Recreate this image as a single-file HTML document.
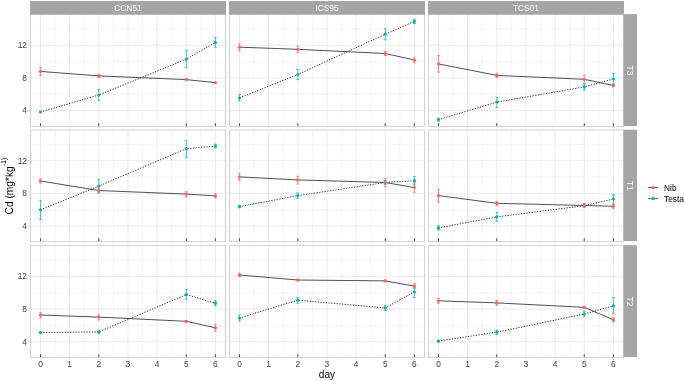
<!DOCTYPE html>
<html><head><meta charset="utf-8"><title>Cd plot</title>
<style>
html,body{margin:0;padding:0;background:#fff;}
body{width:685px;height:381px;overflow:hidden;}
svg{display:block;}
text{font-family:"Liberation Sans",Arial,Helvetica,sans-serif;}
.st{font-size:8.4px;fill:#FFFFFF;}
.rs{font-size:8.4px;}
.ax{font-size:8.4px;fill:#3C3C3C;}
.ti{font-size:10.2px;fill:#000000;}
.lg{font-size:8.4px;fill:#000000;}
</style></head>
<body>
<svg width="685" height="381" viewBox="0 0 685 381">
<rect width="685" height="381" fill="#FFFFFF"/>
<path d="M30.5 94.18H225.5M30.5 61.54H225.5M30.5 28.9H225.5M55.08 14.5V126.5M84.22 14.5V126.5M113.38 14.5V126.5M142.52 14.5V126.5M171.67 14.5V126.5M200.82 14.5V126.5" stroke="#EEEEEE" stroke-width="0.6" fill="none"/>
<path d="M30.5 110.5H225.5M30.5 77.86H225.5M30.5 45.22H225.5M40.5 14.5V126.5M69.65 14.5V126.5M98.8 14.5V126.5M127.95 14.5V126.5M157.1 14.5V126.5M186.25 14.5V126.5M215.4 14.5V126.5" stroke="#E4E4E4" stroke-width="0.75" fill="none"/>
<path d="M229.5 94.18H424.5M229.5 61.54H424.5M229.5 28.9H424.5M254.07 14.5V126.5M283.23 14.5V126.5M312.38 14.5V126.5M341.52 14.5V126.5M370.67 14.5V126.5M399.82 14.5V126.5" stroke="#EEEEEE" stroke-width="0.6" fill="none"/>
<path d="M229.5 110.5H424.5M229.5 77.86H424.5M229.5 45.22H424.5M239.5 14.5V126.5M268.65 14.5V126.5M297.8 14.5V126.5M326.95 14.5V126.5M356.1 14.5V126.5M385.25 14.5V126.5M414.4 14.5V126.5" stroke="#E4E4E4" stroke-width="0.75" fill="none"/>
<path d="M428.5 94.18H623.5M428.5 61.54H623.5M428.5 28.9H623.5M453.07 14.5V126.5M482.23 14.5V126.5M511.38 14.5V126.5M540.52 14.5V126.5M569.67 14.5V126.5M598.83 14.5V126.5" stroke="#EEEEEE" stroke-width="0.6" fill="none"/>
<path d="M428.5 110.5H623.5M428.5 77.86H623.5M428.5 45.22H623.5M438.5 14.5V126.5M467.65 14.5V126.5M496.8 14.5V126.5M525.95 14.5V126.5M555.1 14.5V126.5M584.25 14.5V126.5M613.4 14.5V126.5" stroke="#E4E4E4" stroke-width="0.75" fill="none"/>
<path d="M30.5 209.68H225.5M30.5 177.04H225.5M30.5 144.4H225.5M55.08 130V241.5M84.22 130V241.5M113.38 130V241.5M142.52 130V241.5M171.67 130V241.5M200.82 130V241.5" stroke="#EEEEEE" stroke-width="0.6" fill="none"/>
<path d="M30.5 226H225.5M30.5 193.36H225.5M30.5 160.72H225.5M40.5 130V241.5M69.65 130V241.5M98.8 130V241.5M127.95 130V241.5M157.1 130V241.5M186.25 130V241.5M215.4 130V241.5" stroke="#E4E4E4" stroke-width="0.75" fill="none"/>
<path d="M229.5 209.68H424.5M229.5 177.04H424.5M229.5 144.4H424.5M254.07 130V241.5M283.23 130V241.5M312.38 130V241.5M341.52 130V241.5M370.67 130V241.5M399.82 130V241.5" stroke="#EEEEEE" stroke-width="0.6" fill="none"/>
<path d="M229.5 226H424.5M229.5 193.36H424.5M229.5 160.72H424.5M239.5 130V241.5M268.65 130V241.5M297.8 130V241.5M326.95 130V241.5M356.1 130V241.5M385.25 130V241.5M414.4 130V241.5" stroke="#E4E4E4" stroke-width="0.75" fill="none"/>
<path d="M428.5 209.68H623.5M428.5 177.04H623.5M428.5 144.4H623.5M453.07 130V241.5M482.23 130V241.5M511.38 130V241.5M540.52 130V241.5M569.67 130V241.5M598.83 130V241.5" stroke="#EEEEEE" stroke-width="0.6" fill="none"/>
<path d="M428.5 226H623.5M428.5 193.36H623.5M428.5 160.72H623.5M438.5 130V241.5M467.65 130V241.5M496.8 130V241.5M525.95 130V241.5M555.1 130V241.5M584.25 130V241.5M613.4 130V241.5" stroke="#E4E4E4" stroke-width="0.75" fill="none"/>
<path d="M30.5 325.38H225.5M30.5 292.74H225.5M30.5 260.1H225.5M55.08 245.5V357.5M84.22 245.5V357.5M113.38 245.5V357.5M142.52 245.5V357.5M171.67 245.5V357.5M200.82 245.5V357.5" stroke="#EEEEEE" stroke-width="0.6" fill="none"/>
<path d="M30.5 341.7H225.5M30.5 309.06H225.5M30.5 276.42H225.5M40.5 245.5V357.5M69.65 245.5V357.5M98.8 245.5V357.5M127.95 245.5V357.5M157.1 245.5V357.5M186.25 245.5V357.5M215.4 245.5V357.5" stroke="#E4E4E4" stroke-width="0.75" fill="none"/>
<path d="M229.5 325.38H424.5M229.5 292.74H424.5M229.5 260.1H424.5M254.07 245.5V357.5M283.23 245.5V357.5M312.38 245.5V357.5M341.52 245.5V357.5M370.67 245.5V357.5M399.82 245.5V357.5" stroke="#EEEEEE" stroke-width="0.6" fill="none"/>
<path d="M229.5 341.7H424.5M229.5 309.06H424.5M229.5 276.42H424.5M239.5 245.5V357.5M268.65 245.5V357.5M297.8 245.5V357.5M326.95 245.5V357.5M356.1 245.5V357.5M385.25 245.5V357.5M414.4 245.5V357.5" stroke="#E4E4E4" stroke-width="0.75" fill="none"/>
<path d="M428.5 325.38H623.5M428.5 292.74H623.5M428.5 260.1H623.5M453.07 245.5V357.5M482.23 245.5V357.5M511.38 245.5V357.5M540.52 245.5V357.5M569.67 245.5V357.5M598.83 245.5V357.5" stroke="#EEEEEE" stroke-width="0.6" fill="none"/>
<path d="M428.5 341.7H623.5M428.5 309.06H623.5M428.5 276.42H623.5M438.5 245.5V357.5M467.65 245.5V357.5M496.8 245.5V357.5M525.95 245.5V357.5M555.1 245.5V357.5M584.25 245.5V357.5M613.4 245.5V357.5" stroke="#E4E4E4" stroke-width="0.75" fill="none"/>
<path d="M39.04 67.4H41.96M40.5 67.4V75.3M39.04 75.3H41.96M97.34 74.4H100.26M98.8 74.4V77.4M97.34 77.4H100.26M184.79 78.8H187.71M186.25 78.8V80.4M184.79 80.4H187.71M213.94 82.6H216.86M215.4 82.6V82.6M213.94 82.6H216.86" stroke="#F6635A" stroke-width="0.7" fill="none"/>
<path d="M39.04 111.6H41.96M40.5 111.6V112.4M39.04 112.4H41.96M97.34 89.4H100.26M98.8 89.4V100.6M97.34 100.6H100.26M184.79 50.4H187.71M186.25 50.4V67.7M184.79 67.7H187.71M213.94 37.6H216.86M215.4 37.6V47.3M213.94 47.3H216.86" stroke="#00B3B8" stroke-width="0.7" fill="none"/>
<polyline points="40.5,71.4 98.8,75.9 186.25,79.6 215.4,82.6" stroke="#303030" stroke-width="0.85" fill="none"/>
<polyline points="40.5,112 98.8,95 186.25,59.2 215.4,42.4" stroke="#303030" stroke-width="1.0" fill="none" stroke-dasharray="1.25 1.45"/>
<circle cx="40.5" cy="112" r="1.6" fill="#00B3B8"/>
<circle cx="98.8" cy="95" r="1.6" fill="#00B3B8"/>
<circle cx="186.25" cy="59.2" r="1.6" fill="#00B3B8"/>
<circle cx="215.4" cy="42.4" r="1.6" fill="#00B3B8"/>
<circle cx="40.5" cy="71.4" r="1.6" fill="#F6635A"/>
<circle cx="98.8" cy="75.9" r="1.6" fill="#F6635A"/>
<circle cx="186.25" cy="79.6" r="1.6" fill="#F6635A"/>
<circle cx="215.4" cy="82.6" r="1.6" fill="#F6635A"/>
<path d="M238.04 43.7H240.96M239.5 43.7V50.8M238.04 50.8H240.96M296.34 46H299.26M297.8 46V52.6M296.34 52.6H299.26M383.79 51.4H386.71M385.25 51.4V55.5M383.79 55.5H386.71M412.94 57.3H415.86M414.4 57.3V62.7M412.94 62.7H415.86" stroke="#F6635A" stroke-width="0.7" fill="none"/>
<path d="M238.04 94.4H240.96M239.5 94.4V101M238.04 101H240.96M296.34 69.5H299.26M297.8 69.5V79.6M296.34 79.6H299.26M383.79 28.8H386.71M385.25 28.8V39.8M383.79 39.8H386.71M412.94 19.3H415.86M414.4 19.3V23.5M412.94 23.5H415.86" stroke="#00B3B8" stroke-width="0.7" fill="none"/>
<polyline points="239.5,47.2 297.8,49.3 385.25,53.5 414.4,60" stroke="#303030" stroke-width="0.85" fill="none"/>
<polyline points="239.5,98 297.8,74.5 385.25,34.2 414.4,21.4" stroke="#303030" stroke-width="1.0" fill="none" stroke-dasharray="1.25 1.45"/>
<circle cx="239.5" cy="98" r="1.6" fill="#00B3B8"/>
<circle cx="297.8" cy="74.5" r="1.6" fill="#00B3B8"/>
<circle cx="385.25" cy="34.2" r="1.6" fill="#00B3B8"/>
<circle cx="414.4" cy="21.4" r="1.6" fill="#00B3B8"/>
<circle cx="239.5" cy="47.2" r="1.6" fill="#F6635A"/>
<circle cx="297.8" cy="49.3" r="1.6" fill="#F6635A"/>
<circle cx="385.25" cy="53.5" r="1.6" fill="#F6635A"/>
<circle cx="414.4" cy="60" r="1.6" fill="#F6635A"/>
<path d="M437.04 55.5H439.96M438.5 55.5V72.2M437.04 72.2H439.96M495.34 73.3H498.26M496.8 73.3V77.5M495.34 77.5H498.26M582.79 75.1H585.71M584.25 75.1V83.7M582.79 83.7H585.71M611.94 84H614.86M613.4 84V87M611.94 87H614.86" stroke="#F6635A" stroke-width="0.7" fill="none"/>
<path d="M437.04 118.2H439.96M438.5 118.2V121.1M437.04 121.1H439.96M495.34 97.4H498.26M496.8 97.4V107.5M495.34 107.5H498.26M582.79 83.9H585.71M584.25 83.9V90.3M582.79 90.3H585.71M611.94 73.3H614.86M613.4 73.3V84.3M611.94 84.3H614.86" stroke="#00B3B8" stroke-width="0.7" fill="none"/>
<polyline points="438.5,63.9 496.8,75.4 584.25,79.3 613.4,85.5" stroke="#303030" stroke-width="0.85" fill="none"/>
<polyline points="438.5,119.6 496.8,102.1 584.25,86.9 613.4,79" stroke="#303030" stroke-width="1.0" fill="none" stroke-dasharray="1.25 1.45"/>
<circle cx="438.5" cy="119.6" r="1.6" fill="#00B3B8"/>
<circle cx="496.8" cy="102.1" r="1.6" fill="#00B3B8"/>
<circle cx="584.25" cy="86.9" r="1.6" fill="#00B3B8"/>
<circle cx="613.4" cy="79" r="1.6" fill="#00B3B8"/>
<circle cx="438.5" cy="63.9" r="1.6" fill="#F6635A"/>
<circle cx="496.8" cy="75.4" r="1.6" fill="#F6635A"/>
<circle cx="584.25" cy="79.3" r="1.6" fill="#F6635A"/>
<circle cx="613.4" cy="85.5" r="1.6" fill="#F6635A"/>
<path d="M39.04 178.9H41.96M40.5 178.9V183M39.04 183H41.96M97.34 188.2H100.26M98.8 188.2V193.2M97.34 193.2H100.26M184.79 191.7H187.71M186.25 191.7V196.8M184.79 196.8H187.71M213.94 193.5H216.86M215.4 193.5V198M213.94 198H216.86" stroke="#F6635A" stroke-width="0.7" fill="none"/>
<path d="M39.04 200.4H41.96M40.5 200.4V219.4M39.04 219.4H41.96M97.34 179.6H100.26M98.8 179.6V192.6M97.34 192.6H100.26M184.79 140.4H187.71M186.25 140.4V157.6M184.79 157.6H187.71M213.94 144.2H216.86M215.4 144.2V147.8M213.94 147.8H216.86" stroke="#00B3B8" stroke-width="0.7" fill="none"/>
<polyline points="40.5,181 98.8,190.5 186.25,194.1 215.4,195.9" stroke="#303030" stroke-width="0.85" fill="none"/>
<polyline points="40.5,209.8 98.8,186.1 186.25,148.7 215.4,146" stroke="#303030" stroke-width="1.0" fill="none" stroke-dasharray="1.25 1.45"/>
<circle cx="40.5" cy="209.8" r="1.6" fill="#00B3B8"/>
<circle cx="98.8" cy="186.1" r="1.6" fill="#00B3B8"/>
<circle cx="186.25" cy="148.7" r="1.6" fill="#00B3B8"/>
<circle cx="215.4" cy="146" r="1.6" fill="#00B3B8"/>
<circle cx="40.5" cy="181" r="1.6" fill="#F6635A"/>
<circle cx="98.8" cy="190.5" r="1.6" fill="#F6635A"/>
<circle cx="186.25" cy="194.1" r="1.6" fill="#F6635A"/>
<circle cx="215.4" cy="195.9" r="1.6" fill="#F6635A"/>
<path d="M238.04 173.3H240.96M239.5 173.3V180.4M238.04 180.4H240.96M296.34 176.3H299.26M297.8 176.3V184M296.34 184H299.26M383.79 178.4H386.71M385.25 178.4V186.4M383.79 186.4H386.71M412.94 182.8H415.86M414.4 182.8V192.3M412.94 192.3H415.86" stroke="#F6635A" stroke-width="0.7" fill="none"/>
<path d="M238.04 205.4H240.96M239.5 205.4V207.7M238.04 207.7H240.96M296.34 192.9H299.26M297.8 192.9V198.2M296.34 198.2H299.26M383.79 180.4H386.71M385.25 180.4V184.6M383.79 184.6H386.71M412.94 176.6H415.86M414.4 176.6V184.9M412.94 184.9H415.86" stroke="#00B3B8" stroke-width="0.7" fill="none"/>
<polyline points="239.5,176.9 297.8,179.9 385.25,182.5 414.4,187.6" stroke="#303030" stroke-width="0.85" fill="none"/>
<polyline points="239.5,206.6 297.8,195.6 385.25,182.5 414.4,180.7" stroke="#303030" stroke-width="1.0" fill="none" stroke-dasharray="1.25 1.45"/>
<circle cx="239.5" cy="206.6" r="1.6" fill="#00B3B8"/>
<circle cx="297.8" cy="195.6" r="1.6" fill="#00B3B8"/>
<circle cx="385.25" cy="182.5" r="1.6" fill="#00B3B8"/>
<circle cx="414.4" cy="180.7" r="1.6" fill="#00B3B8"/>
<circle cx="239.5" cy="176.9" r="1.6" fill="#F6635A"/>
<circle cx="297.8" cy="179.9" r="1.6" fill="#F6635A"/>
<circle cx="385.25" cy="182.5" r="1.6" fill="#F6635A"/>
<circle cx="414.4" cy="187.6" r="1.6" fill="#F6635A"/>
<path d="M437.04 189.3H439.96M438.5 189.3V202.1M437.04 202.1H439.96M495.34 201.2H498.26M496.8 201.2V205.7M495.34 205.7H498.26M582.79 203.5H585.71M584.25 203.5V207.6M582.79 207.6H585.71M611.94 204.2H614.86M613.4 204.2V208.3M611.94 208.3H614.86" stroke="#F6635A" stroke-width="0.7" fill="none"/>
<path d="M437.04 225.8H439.96M438.5 225.8V230M437.04 230H439.96M495.34 212.5H498.26M496.8 212.5V221.4M495.34 221.4H498.26M582.79 204.2H585.71M584.25 204.2V207.2M582.79 207.2H585.71M611.94 194.4H614.86M613.4 194.4V203.9M611.94 203.9H614.86" stroke="#00B3B8" stroke-width="0.7" fill="none"/>
<polyline points="438.5,195.6 496.8,203.3 584.25,205.5 613.4,206.3" stroke="#303030" stroke-width="0.85" fill="none"/>
<polyline points="438.5,227.9 496.8,216.9 584.25,205.7 613.4,199.1" stroke="#303030" stroke-width="1.0" fill="none" stroke-dasharray="1.25 1.45"/>
<circle cx="438.5" cy="227.9" r="1.6" fill="#00B3B8"/>
<circle cx="496.8" cy="216.9" r="1.6" fill="#00B3B8"/>
<circle cx="584.25" cy="205.7" r="1.6" fill="#00B3B8"/>
<circle cx="613.4" cy="199.1" r="1.6" fill="#00B3B8"/>
<circle cx="438.5" cy="195.6" r="1.6" fill="#F6635A"/>
<circle cx="496.8" cy="203.3" r="1.6" fill="#F6635A"/>
<circle cx="584.25" cy="205.5" r="1.6" fill="#F6635A"/>
<circle cx="613.4" cy="206.3" r="1.6" fill="#F6635A"/>
<path d="M39.04 312.4H41.96M40.5 312.4V317.7M39.04 317.7H41.96M97.34 314.7H100.26M98.8 314.7V319.8M97.34 319.8H100.26M184.79 320.6H187.71M186.25 320.6V322M184.79 322H187.71M213.94 324.2H216.86M215.4 324.2V331.3M213.94 331.3H216.86" stroke="#F6635A" stroke-width="0.7" fill="none"/>
<path d="M39.04 331.8H41.96M40.5 331.8V333.2M39.04 333.2H41.96M97.34 330.2H100.26M98.8 330.2V333.7M97.34 333.7H100.26M184.79 289.5H187.71M186.25 289.5V299.3M184.79 299.3H187.71M213.94 300.6H216.86M215.4 300.6V305.9M213.94 305.9H216.86" stroke="#00B3B8" stroke-width="0.7" fill="none"/>
<polyline points="40.5,315 98.8,317.1 186.25,321.3 215.4,327.8" stroke="#303030" stroke-width="0.85" fill="none"/>
<polyline points="40.5,332.5 98.8,331.9 186.25,294.6 215.4,303.2" stroke="#303030" stroke-width="1.0" fill="none" stroke-dasharray="1.25 1.45"/>
<circle cx="40.5" cy="332.5" r="1.6" fill="#00B3B8"/>
<circle cx="98.8" cy="331.9" r="1.6" fill="#00B3B8"/>
<circle cx="186.25" cy="294.6" r="1.6" fill="#00B3B8"/>
<circle cx="215.4" cy="303.2" r="1.6" fill="#00B3B8"/>
<circle cx="40.5" cy="315" r="1.6" fill="#F6635A"/>
<circle cx="98.8" cy="317.1" r="1.6" fill="#F6635A"/>
<circle cx="186.25" cy="321.3" r="1.6" fill="#F6635A"/>
<circle cx="215.4" cy="327.8" r="1.6" fill="#F6635A"/>
<path d="M238.04 273.2H240.96M239.5 273.2V276.5M238.04 276.5H240.96M296.34 279.3H299.26M297.8 279.3V280.7M296.34 280.7H299.26M383.79 280.2H386.71M385.25 280.2V281.6M383.79 281.6H386.71M412.94 283.5H415.86M414.4 283.5V288.5M412.94 288.5H415.86" stroke="#F6635A" stroke-width="0.7" fill="none"/>
<path d="M238.04 315H240.96M239.5 315V321M238.04 321H240.96M296.34 297.5H299.26M297.8 297.5V303.2M296.34 303.2H299.26M383.79 305.2H386.71M385.25 305.2V310.6M383.79 310.6H386.71M412.94 287.1H415.86M414.4 287.1V297.5M412.94 297.5H415.86" stroke="#00B3B8" stroke-width="0.7" fill="none"/>
<polyline points="239.5,275 297.8,280 385.25,280.9 414.4,286.2" stroke="#303030" stroke-width="0.85" fill="none"/>
<polyline points="239.5,318 297.8,300.2 385.25,307.9 414.4,291.9" stroke="#303030" stroke-width="1.0" fill="none" stroke-dasharray="1.25 1.45"/>
<circle cx="239.5" cy="318" r="1.6" fill="#00B3B8"/>
<circle cx="297.8" cy="300.2" r="1.6" fill="#00B3B8"/>
<circle cx="385.25" cy="307.9" r="1.6" fill="#00B3B8"/>
<circle cx="414.4" cy="291.9" r="1.6" fill="#00B3B8"/>
<circle cx="239.5" cy="275" r="1.6" fill="#F6635A"/>
<circle cx="297.8" cy="280" r="1.6" fill="#F6635A"/>
<circle cx="385.25" cy="280.9" r="1.6" fill="#F6635A"/>
<circle cx="414.4" cy="286.2" r="1.6" fill="#F6635A"/>
<path d="M437.04 298.4H439.96M438.5 298.4V303.2M437.04 303.2H439.96M495.34 300.5H498.26M496.8 300.5V305.2M495.34 305.2H498.26M582.79 306.6H585.71M584.25 306.6V308M582.79 308H585.71M611.94 317.6H614.86M613.4 317.6V321.9M611.94 321.9H614.86" stroke="#F6635A" stroke-width="0.7" fill="none"/>
<path d="M437.04 340.4H439.96M438.5 340.4V341.8M437.04 341.8H439.96M495.34 330.2H498.26M496.8 330.2V334.6M495.34 334.6H498.26M582.79 311.2H585.71M584.25 311.2V316.6M582.79 316.6H585.71M611.94 297.5H614.86M613.4 297.5V313.8M611.94 313.8H614.86" stroke="#00B3B8" stroke-width="0.7" fill="none"/>
<polyline points="438.5,300.8 496.8,302.9 584.25,307.3 613.4,319.8" stroke="#303030" stroke-width="0.85" fill="none"/>
<polyline points="438.5,341.1 496.8,332.2 584.25,314 613.4,305.8" stroke="#303030" stroke-width="1.0" fill="none" stroke-dasharray="1.25 1.45"/>
<circle cx="438.5" cy="341.1" r="1.6" fill="#00B3B8"/>
<circle cx="496.8" cy="332.2" r="1.6" fill="#00B3B8"/>
<circle cx="584.25" cy="314" r="1.6" fill="#00B3B8"/>
<circle cx="613.4" cy="305.8" r="1.6" fill="#00B3B8"/>
<circle cx="438.5" cy="300.8" r="1.6" fill="#F6635A"/>
<circle cx="496.8" cy="302.9" r="1.6" fill="#F6635A"/>
<circle cx="584.25" cy="307.3" r="1.6" fill="#F6635A"/>
<circle cx="613.4" cy="319.8" r="1.6" fill="#F6635A"/>
<path d="M40.5 123.3V126.5M98.8 123.3V126.5M186.25 123.3V126.5M215.4 123.3V126.5" stroke="#303030" stroke-width="0.9" fill="none"/>
<path d="M239.5 123.3V126.5M297.8 123.3V126.5M385.25 123.3V126.5M414.4 123.3V126.5" stroke="#303030" stroke-width="0.9" fill="none"/>
<path d="M438.5 123.3V126.5M496.8 123.3V126.5M584.25 123.3V126.5M613.4 123.3V126.5" stroke="#303030" stroke-width="0.9" fill="none"/>
<path d="M40.5 238.3V241.5M98.8 238.3V241.5M186.25 238.3V241.5M215.4 238.3V241.5" stroke="#303030" stroke-width="0.9" fill="none"/>
<path d="M239.5 238.3V241.5M297.8 238.3V241.5M385.25 238.3V241.5M414.4 238.3V241.5" stroke="#303030" stroke-width="0.9" fill="none"/>
<path d="M438.5 238.3V241.5M496.8 238.3V241.5M584.25 238.3V241.5M613.4 238.3V241.5" stroke="#303030" stroke-width="0.9" fill="none"/>
<path d="M40.5 354.3V357.5M98.8 354.3V357.5M186.25 354.3V357.5M215.4 354.3V357.5" stroke="#303030" stroke-width="0.9" fill="none"/>
<path d="M239.5 354.3V357.5M297.8 354.3V357.5M385.25 354.3V357.5M414.4 354.3V357.5" stroke="#303030" stroke-width="0.9" fill="none"/>
<path d="M438.5 354.3V357.5M496.8 354.3V357.5M584.25 354.3V357.5M613.4 354.3V357.5" stroke="#303030" stroke-width="0.9" fill="none"/>
<rect x="30.5" y="14.5" width="195" height="112" fill="none" stroke="#D2D2D2" stroke-width="1"/>
<rect x="229.5" y="14.5" width="195" height="112" fill="none" stroke="#D2D2D2" stroke-width="1"/>
<rect x="428.5" y="14.5" width="195" height="112" fill="none" stroke="#D2D2D2" stroke-width="1"/>
<rect x="30.5" y="130" width="195" height="111.5" fill="none" stroke="#D2D2D2" stroke-width="1"/>
<rect x="229.5" y="130" width="195" height="111.5" fill="none" stroke="#D2D2D2" stroke-width="1"/>
<rect x="428.5" y="130" width="195" height="111.5" fill="none" stroke="#D2D2D2" stroke-width="1"/>
<rect x="30.5" y="245.5" width="195" height="112" fill="none" stroke="#D2D2D2" stroke-width="1"/>
<rect x="229.5" y="245.5" width="195" height="112" fill="none" stroke="#D2D2D2" stroke-width="1"/>
<rect x="428.5" y="245.5" width="195" height="112" fill="none" stroke="#D2D2D2" stroke-width="1"/>
<rect x="30" y="1" width="196" height="13.5" fill="#A5A5A5"/>
<text x="128" y="10.9" class="st" text-anchor="middle">CCN51</text>
<rect x="229" y="1" width="196" height="13.5" fill="#A5A5A5"/>
<text x="327" y="10.9" class="st" text-anchor="middle">ICS95</text>
<rect x="428" y="1" width="196" height="13.5" fill="#A5A5A5"/>
<text x="526" y="10.9" class="st" text-anchor="middle">TCS01</text>
<rect x="623.5" y="14.2" width="13.5" height="111.9" fill="#A5A5A5"/>
<text transform="translate(627.2,70.5) rotate(90)" x="0" y="0" class="st rs" text-anchor="middle">T3</text>
<rect x="623.5" y="129.7" width="13.5" height="111.4" fill="#A5A5A5"/>
<text transform="translate(627.2,185.75) rotate(90)" x="0" y="0" class="st rs" text-anchor="middle">T1</text>
<rect x="623.5" y="245.2" width="13.5" height="111.9" fill="#A5A5A5"/>
<text transform="translate(627.2,301.5) rotate(90)" x="0" y="0" class="st rs" text-anchor="middle">T2</text>
<text x="27" y="113.3" class="ax" text-anchor="end">4</text>
<text x="27" y="80.66" class="ax" text-anchor="end">8</text>
<text x="27" y="48.02" class="ax" text-anchor="end">12</text>
<path d="M27.75 110.5H30.5M27.75 77.86H30.5M27.75 45.22H30.5" stroke="#D2D2D2" stroke-width="0.75" fill="none"/>
<text x="27" y="228.8" class="ax" text-anchor="end">4</text>
<text x="27" y="196.16" class="ax" text-anchor="end">8</text>
<text x="27" y="163.52" class="ax" text-anchor="end">12</text>
<path d="M27.75 226H30.5M27.75 193.36H30.5M27.75 160.72H30.5" stroke="#D2D2D2" stroke-width="0.75" fill="none"/>
<text x="27" y="344.5" class="ax" text-anchor="end">4</text>
<text x="27" y="311.86" class="ax" text-anchor="end">8</text>
<text x="27" y="279.22" class="ax" text-anchor="end">12</text>
<path d="M27.75 341.7H30.5M27.75 309.06H30.5M27.75 276.42H30.5" stroke="#D2D2D2" stroke-width="0.75" fill="none"/>
<text x="40.5" y="366.9" class="ax" text-anchor="middle">0</text>
<text x="69.65" y="366.9" class="ax" text-anchor="middle">1</text>
<text x="98.8" y="366.9" class="ax" text-anchor="middle">2</text>
<text x="127.95" y="366.9" class="ax" text-anchor="middle">3</text>
<text x="157.1" y="366.9" class="ax" text-anchor="middle">4</text>
<text x="186.25" y="366.9" class="ax" text-anchor="middle">5</text>
<text x="215.4" y="366.9" class="ax" text-anchor="middle">6</text>
<path d="M40.5 357.5V360.25M69.65 357.5V360.25M98.8 357.5V360.25M127.95 357.5V360.25M157.1 357.5V360.25M186.25 357.5V360.25M215.4 357.5V360.25" stroke="#D2D2D2" stroke-width="0.75" fill="none"/>
<text x="239.5" y="366.9" class="ax" text-anchor="middle">0</text>
<text x="268.65" y="366.9" class="ax" text-anchor="middle">1</text>
<text x="297.8" y="366.9" class="ax" text-anchor="middle">2</text>
<text x="326.95" y="366.9" class="ax" text-anchor="middle">3</text>
<text x="356.1" y="366.9" class="ax" text-anchor="middle">4</text>
<text x="385.25" y="366.9" class="ax" text-anchor="middle">5</text>
<text x="414.4" y="366.9" class="ax" text-anchor="middle">6</text>
<path d="M239.5 357.5V360.25M268.65 357.5V360.25M297.8 357.5V360.25M326.95 357.5V360.25M356.1 357.5V360.25M385.25 357.5V360.25M414.4 357.5V360.25" stroke="#D2D2D2" stroke-width="0.75" fill="none"/>
<text x="438.5" y="366.9" class="ax" text-anchor="middle">0</text>
<text x="467.65" y="366.9" class="ax" text-anchor="middle">1</text>
<text x="496.8" y="366.9" class="ax" text-anchor="middle">2</text>
<text x="525.95" y="366.9" class="ax" text-anchor="middle">3</text>
<text x="555.1" y="366.9" class="ax" text-anchor="middle">4</text>
<text x="584.25" y="366.9" class="ax" text-anchor="middle">5</text>
<text x="613.4" y="366.9" class="ax" text-anchor="middle">6</text>
<path d="M438.5 357.5V360.25M467.65 357.5V360.25M496.8 357.5V360.25M525.95 357.5V360.25M555.1 357.5V360.25M584.25 357.5V360.25M613.4 357.5V360.25" stroke="#D2D2D2" stroke-width="0.75" fill="none"/>
<text x="327" y="377.8" class="ti" text-anchor="middle">day</text>
<text transform="translate(12.5,186) rotate(-90)" class="ti" text-anchor="middle">Cd (mg*kg<tspan dy="-6.5" font-size="7.2">-1)</tspan></text>
<path d="M648.5 187.6H658" stroke="#F6635A" stroke-width="0.7"/>
<path d="M648.5 187.6H658" stroke="#303030" stroke-width="0.85"/>
<circle cx="653.2" cy="187.6" r="1.6" fill="#F6635A"/>
<text x="664" y="190.7" class="lg">Nib</text>
<path d="M648.5 198.6H658" stroke="#00B3B8" stroke-width="0.7"/>
<path d="M648.5 198.6H658" stroke="#303030" stroke-width="1.0" stroke-dasharray="1.25 1.45"/>
<circle cx="653.2" cy="198.6" r="1.6" fill="#00B3B8"/>
<text x="664" y="201.7" class="lg">Testa</text>
</svg>
</body></html>
